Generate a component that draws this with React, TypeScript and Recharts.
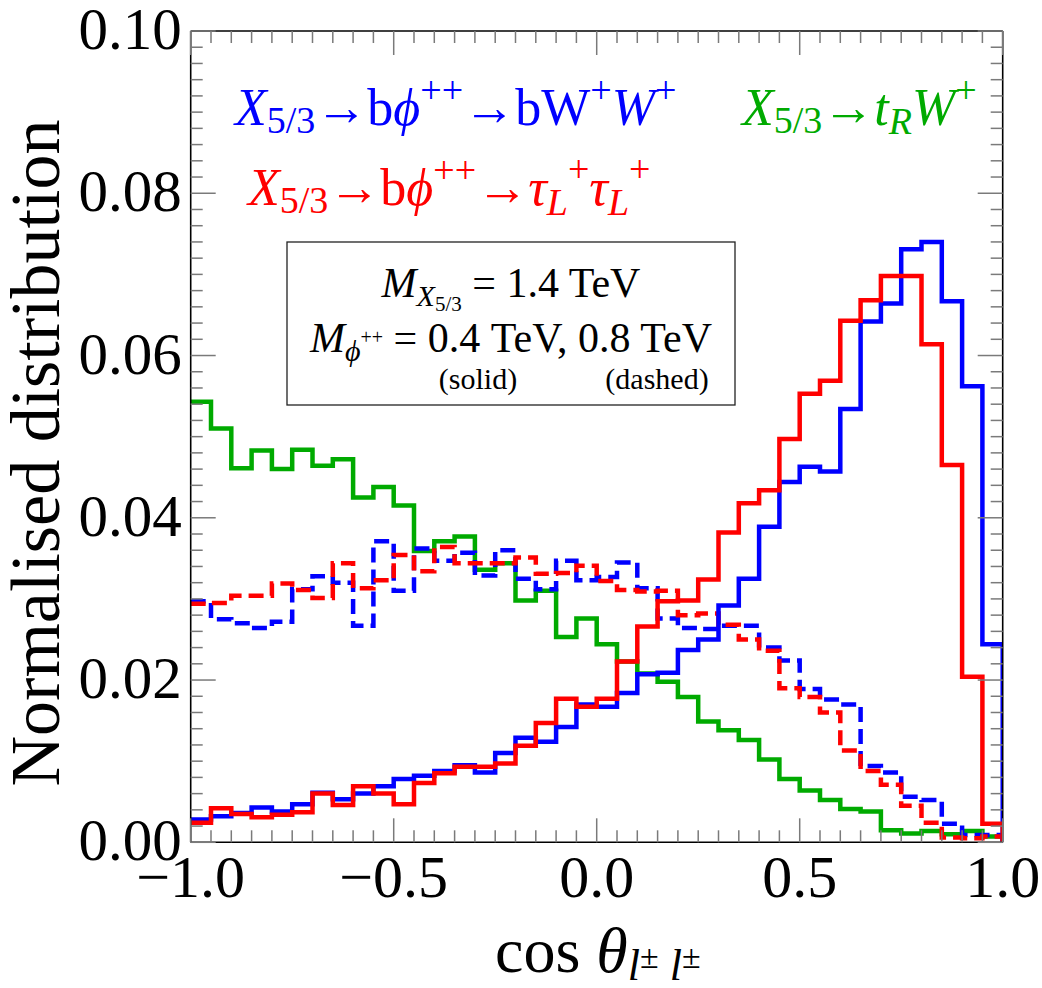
import React from "react";
import { ComposedChart, Line, XAxis, YAxis } from "recharts";

// Left edges of the 40 histogram bins in cos(theta), plus the closing edge at 1.0
const binEdges = [
  -1.0, -0.95, -0.9, -0.85, -0.8, -0.75, -0.7, -0.65, -0.6, -0.55,
  -0.5, -0.45, -0.4, -0.35, -0.3, -0.25, -0.2, -0.15, -0.1, -0.05,
  0.0, 0.05, 0.1, 0.15, 0.2, 0.25, 0.3, 0.35, 0.4, 0.45,
  0.5, 0.55, 0.6, 0.65, 0.7, 0.75, 0.8, 0.85, 0.9, 0.95, 1.0,
];

// X5/3 -> b phi++ -> b W+ W+, M_phi = 0.4 TeV (solid)
const blueSolid = [
  0.0028, 0.0032, 0.0036, 0.0043, 0.0038, 0.0047, 0.0061, 0.0053, 0.006, 0.0069,
  0.0078, 0.0082, 0.0088, 0.0095, 0.0086, 0.011, 0.0129, 0.0124, 0.0142, 0.017,
  0.0167, 0.0184, 0.0207, 0.0209, 0.0237, 0.025, 0.0292, 0.0325, 0.0389, 0.0444,
  0.0463, 0.0457, 0.0534, 0.0642, 0.0664, 0.0731, 0.074, 0.0667, 0.0562, 0.0244,
];

// X5/3 -> b phi++ -> tau_L+ tau_L+, M_phi = 0.4 TeV (solid)
const redSolid = [
  0.0024, 0.0042, 0.0035, 0.0031, 0.0034, 0.0037, 0.006, 0.0046, 0.0069, 0.006,
  0.0047, 0.0073, 0.0085, 0.0093, 0.0093, 0.0097, 0.0119, 0.0147, 0.0177, 0.0167,
  0.0177, 0.0223, 0.0266, 0.0297, 0.0298, 0.0324, 0.0382, 0.0418, 0.0434, 0.0497,
  0.0553, 0.0569, 0.0643, 0.0668, 0.0698, 0.0698, 0.0614, 0.0465, 0.0204, 0.0023,
];

// X5/3 -> b phi++ -> b W+ W+, M_phi = 0.8 TeV (dashed)
const blueDashed = [
  0.0297, 0.0275, 0.027, 0.0264, 0.0272, 0.0312, 0.0328, 0.032, 0.0267, 0.0371,
  0.031, 0.0362, 0.0347, 0.0357, 0.0329, 0.036, 0.0325, 0.0312, 0.0347, 0.0323,
  0.0327, 0.0345, 0.0313, 0.0276, 0.0264, 0.0263, 0.0267, 0.0267, 0.024, 0.0224,
  0.0189, 0.0176, 0.017, 0.0094, 0.0086, 0.0056, 0.0052, 0.0023, 0.0009, 0.0009,
];

// X5/3 -> b phi++ -> tau_L+ tau_L+, M_phi = 0.8 TeV (dashed)
const redDashed = [
  0.0294, 0.0295, 0.0304, 0.0304, 0.0319, 0.0311, 0.0301, 0.0344, 0.0313, 0.0323,
  0.0354, 0.0334, 0.0364, 0.0344, 0.0344, 0.0344, 0.0351, 0.0331, 0.0332, 0.0341,
  0.0322, 0.0311, 0.0309, 0.031, 0.028, 0.0282, 0.0268, 0.025, 0.0236, 0.019,
  0.0179, 0.016, 0.0113, 0.0088, 0.0071, 0.0045, 0.0024, 0.0006, 0.0005, 0.0007,
];

// X5/3 -> t_R W+
const greenSolid = [
  0.0543, 0.051, 0.0461, 0.0483, 0.046, 0.0484, 0.0464, 0.0472, 0.0425, 0.0438,
  0.0415, 0.0359, 0.0371, 0.0377, 0.0336, 0.0344, 0.0298, 0.031, 0.0253, 0.0276,
  0.0244, 0.0223, 0.0208, 0.0198, 0.0179, 0.0149, 0.0138, 0.0126, 0.0102, 0.0078,
  0.0064, 0.0052, 0.0041, 0.0038, 0.0015, 0.0011, 0.0014, 0.001, 0.0014, 0.0007,
];

const xMajorTicks = [-1, -0.5, 0, 0.5, 1];
const xMajorLabels = ["\u22121.0", "\u22120.5", "0.0", "0.5", "1.0"];
const yMajorTicks = [0, 0.02, 0.04, 0.06, 0.08, 0.1];
const yMajorLabels = ["0.00", "0.02", "0.04", "0.06", "0.08", "0.10"];

const W = 1042;
const H = 988;
const SERIF = "'Liberation Serif', 'Times New Roman', Times, serif";
const BLUE = "#0000ff";
const RED = "#ff0000";
const GREEN = "#00aa00";
const TICK = "#7a7a7a";
const PHI = "\u03d5";

// one row per bin edge; the closing row brings every histogram back to zero
const table = binEdges.map((x, i) => ({
  x,
  blueSolid: i < 40 ? blueSolid[i] : 0,
  redSolid: i < 40 ? redSolid[i] : 0,
  blueDashed: i < 40 ? blueDashed[i] : 0,
  redDashed: i < 40 ? redDashed[i] : 0,
  greenSolid: i < 40 ? greenSolid[i] : 0,
}));

// minor ticks every 0.002 on the y axis
const yTicks = Array.from({ length: 51 }, (_, i) => (i * 2) / 1000);

const majorIndex = (list: number[], v: number) =>
  list.findIndex((m) => Math.abs(m - v) < 1e-9);

const BottomTick = (props: any) => {
  const { x, y, payload } = props;
  const k = majorIndex(xMajorTicks, payload.value);
  const len = k >= 0 ? 24 : 12;
  return (
    <g>
      <line x1={x} x2={x} y1={y} y2={y - len} stroke={TICK} strokeWidth={1.5} />
      {k >= 0 && (
        <text x={x} y={y + 55} textAnchor="middle" fontSize={60} fontFamily={SERIF} fill="#000">
          {xMajorLabels[k]}
        </text>
      )}
    </g>
  );
};

const TopTick = (props: any) => {
  const { x, y, payload } = props;
  const k = majorIndex(xMajorTicks, payload.value);
  const len = k >= 0 ? 24 : 12;
  return <line x1={x} x2={x} y1={y} y2={y + len} stroke={TICK} strokeWidth={1.5} />;
};

const LeftTick = (props: any) => {
  const { x, y, payload } = props;
  const k = majorIndex(yMajorTicks, payload.value);
  const len = k >= 0 ? 25 : 12;
  return (
    <g>
      <line x1={x} x2={x + len} y1={y} y2={y} stroke={TICK} strokeWidth={1.5} />
      {k >= 0 && (
        <text x={x - 9} y={y + 18} textAnchor="end" fontSize={59} fontFamily={SERIF} fill="#000">
          {yMajorLabels[k]}
        </text>
      )}
    </g>
  );
};

const RightTick = (props: any) => {
  const { x, y, payload } = props;
  const k = majorIndex(yMajorTicks, payload.value);
  const len = k >= 0 ? 25 : 12;
  return <line x1={x} x2={x - len} y1={y} y2={y} stroke={TICK} strokeWidth={1.5} />;
};

const Annotations = () => (
  <svg
    width={W}
    height={H}
    style={{ position: "absolute", left: 0, top: 0, pointerEvents: "none", overflow: "visible" }}
  >
    {/* process labels */}
    <text x={235} y={125} fill={BLUE} fontSize={52} fontFamily={SERIF}>
      <tspan fontStyle="italic">X</tspan>
      <tspan fontSize={38} dy={8}>5/3</tspan>
      <tspan dy={-8}>{"\u2192b"}</tspan>
      <tspan fontStyle="italic">{PHI}</tspan>
      <tspan fontSize={38} dy={-22}>++</tspan>
      <tspan dy={22}>{"\u2192bW"}</tspan>
      <tspan fontSize={38} dy={-22}>+</tspan>
      <tspan dy={22} fontStyle="italic">W</tspan>
      <tspan fontSize={38} dy={-22}>+</tspan>
    </text>
    <text x={742} y={125} fill={GREEN} fontSize={52} fontFamily={SERIF}>
      <tspan fontStyle="italic">X</tspan>
      <tspan fontSize={38} dy={8}>5/3</tspan>
      <tspan dy={-8}>{"\u2192"}</tspan>
      <tspan fontStyle="italic">t</tspan>
      <tspan fontStyle="italic" fontSize={38} dy={9}>R</tspan>
      <tspan fontStyle="italic" dy={-9}>W</tspan>
      <tspan fontSize={38} dy={-22}>+</tspan>
    </text>
    <text x={248} y={205} fill={RED} fontSize={52} fontFamily={SERIF}>
      <tspan fontStyle="italic">X</tspan>
      <tspan fontSize={38} dy={8}>5/3</tspan>
      <tspan dy={-8}>{"\u2192b"}</tspan>
      <tspan fontStyle="italic">{PHI}</tspan>
      <tspan fontSize={38} dy={-22}>++</tspan>
      <tspan dy={22}>{"\u2192"}</tspan>
      <tspan fontStyle="italic">{"\u03c4"}</tspan>
      <tspan fontStyle="italic" fontSize={38} dy={10}>L</tspan>
      <tspan fontSize={38} dy={-33}>+</tspan>
      <tspan fontStyle="italic" dy={23}>{"\u03c4"}</tspan>
      <tspan fontStyle="italic" fontSize={38} dy={10}>L</tspan>
      <tspan fontSize={38} dy={-33}>+</tspan>
    </text>

    {/* mass box */}
    <rect x={287} y={242} width={448} height={163} fill="#fff" stroke="#222" strokeWidth={1.3} />
    <text x={511} y={297} textAnchor="middle" fontSize={42} fontFamily={SERIF} fill="#000">
      <tspan fontStyle="italic">M</tspan>
      <tspan fontStyle="italic" fontSize={30} dy={9}>X</tspan>
      <tspan fontSize={21} dy={5}>5/3</tspan>
      <tspan dy={-14}>{" = 1.4 TeV"}</tspan>
    </text>
    <text x={511} y={352} textAnchor="middle" fontSize={42} fontFamily={SERIF} fill="#000">
      <tspan fontStyle="italic">M</tspan>
      <tspan fontStyle="italic" fontSize={30} dy={9}>{PHI}</tspan>
      <tspan fontSize={20} dy={-17}>++</tspan>
      <tspan dy={8}>{" = 0.4 TeV, 0.8 TeV"}</tspan>
    </text>
    <text x={478} y={389} textAnchor="middle" fontSize={30} fontFamily={SERIF} fill="#000">
      (solid)
    </text>
    <text x={657} y={389} textAnchor="middle" fontSize={30} fontFamily={SERIF} fill="#000">
      (dashed)
    </text>

    {/* axis titles */}
    <text
      x={59}
      y={453}
      transform="rotate(-90 59 453)"
      textAnchor="middle"
      fontSize={70}
      fontFamily={SERIF}
      fill="#000"
    >
      Normalised distribution
    </text>
    <text x={495} y={972} fontSize={64} fontFamily={SERIF} fill="#000">
      <tspan>{"cos "}</tspan>
      <tspan fontStyle="italic">{"\u03b8"}</tspan>
      <tspan fontStyle="italic" fontSize={44} dy={8}>l</tspan>
      <tspan fontSize={34} dy={-12}>{"\u00b1"}</tspan>
      <tspan fontStyle="italic" fontSize={44} dy={12}>{" l"}</tspan>
      <tspan fontSize={34} dy={-12}>{"\u00b1"}</tspan>
    </text>
  </svg>
);

export default function App() {
  return (
    <div style={{ position: "relative", width: W, height: H, background: "#fff" }}>
      <style>{`html, body { margin: 0; padding: 0; overflow: hidden; } .recharts-surface { overflow: visible; }`}</style>
      <ComposedChart
        width={W}
        height={H}
        data={table}
        margin={{ top: 30, right: 38.3, bottom: 45.7, left: 40.7 }}
      >
        <XAxis
          xAxisId="b"
          dataKey="x"
          type="number"
          domain={[-1, 1]}
          ticks={binEdges}
          interval={0}
          height={100}
          tickSize={0}
          tickMargin={0}
          tickLine={false}
          tick={BottomTick}
          axisLine={{ stroke: "#000", strokeWidth: 1.6 }}
          allowDataOverflow
        />
        <XAxis
          xAxisId="t"
          orientation="top"
          dataKey="x"
          type="number"
          domain={[-1, 1]}
          ticks={binEdges}
          interval={0}
          height={1}
          tickSize={0}
          tickMargin={0}
          tickLine={false}
          tick={TopTick}
          axisLine={{ stroke: "#000", strokeWidth: 1.6 }}
          allowDataOverflow
        />
        <YAxis
          yAxisId="l"
          type="number"
          domain={[0, 0.1]}
          ticks={yTicks}
          interval={0}
          width={150}
          tickSize={0}
          tickMargin={0}
          tickLine={false}
          tick={LeftTick}
          axisLine={{ stroke: "#000", strokeWidth: 1.6 }}
          allowDataOverflow
        />
        <YAxis
          yAxisId="r"
          orientation="right"
          type="number"
          domain={[0, 0.1]}
          ticks={yTicks}
          interval={0}
          width={1}
          tickSize={0}
          tickMargin={0}
          tickLine={false}
          tick={RightTick}
          axisLine={{ stroke: "#000", strokeWidth: 1.6 }}
          allowDataOverflow
        />
        <Line
          xAxisId="b"
          yAxisId="l"
          type="stepAfter"
          dataKey="greenSolid"
          stroke={GREEN}
          strokeWidth={4.5}
          dot={false}
          isAnimationActive={false}
        />
        <Line
          xAxisId="b"
          yAxisId="l"
          type="stepAfter"
          dataKey="blueDashed"
          stroke={BLUE}
          strokeWidth={4.5}
          strokeDasharray="15 7"
          dot={false}
          isAnimationActive={false}
        />
        <Line
          xAxisId="b"
          yAxisId="l"
          type="stepAfter"
          dataKey="redDashed"
          stroke={RED}
          strokeWidth={4.5}
          strokeDasharray="15 7"
          dot={false}
          isAnimationActive={false}
        />
        <Line
          xAxisId="b"
          yAxisId="l"
          type="stepAfter"
          dataKey="blueSolid"
          stroke={BLUE}
          strokeWidth={4.5}
          dot={false}
          isAnimationActive={false}
        />
        <Line
          xAxisId="b"
          yAxisId="l"
          type="stepAfter"
          dataKey="redSolid"
          stroke={RED}
          strokeWidth={4.5}
          dot={false}
          isAnimationActive={false}
        />
      </ComposedChart>
      <Annotations />
    </div>
  );
}
